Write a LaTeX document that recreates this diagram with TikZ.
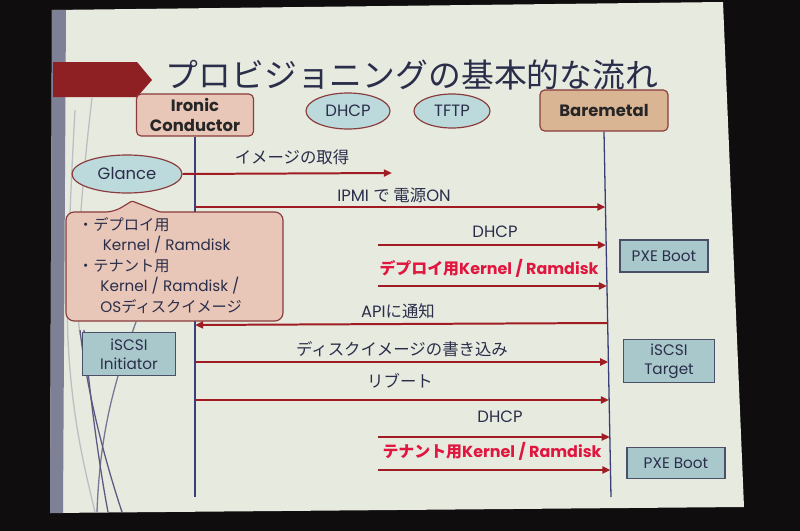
\documentclass[tikz,border=0pt]{standalone}
\usepackage{fontspec}
\setmainfont{Poppins}
\newfontfamily\jp{Noto Sans CJK JP}
\usetikzlibrary{shapes.geometric,arrows.meta}
\definecolor{dark}{HTML}{100D0E}
\definecolor{slide}{HTML}{E6EADF}
\definecolor{stripe}{HTML}{7E8196}
\definecolor{banner}{HTML}{8E1F22}
\definecolor{txt}{HTML}{2B2E4A}
\definecolor{msgred}{HTML}{A01C22}
\definecolor{hot}{HTML}{E0163F}
\definecolor{pinkfill}{HTML}{E8C6B8}
\definecolor{tanfill}{HTML}{D9B594}
\definecolor{bordred}{HTML}{8A3B3B}
\definecolor{ellfill}{HTML}{BCD9DB}
\definecolor{bluefill}{HTML}{A8C8CC}
\definecolor{blueline}{HTML}{4B5066}
\definecolor{life}{HTML}{3B3F78}
\definecolor{deco}{HTML}{5C5A82}
\tikzset{
  actor/.style={draw=bordred, line width=1pt, rounded corners=4pt, align=center, inner sep=0pt,
    text=black!85, font=\fontsize{14}{17}\selectfont\bfseries},
  svc/.style={ellipse, draw=bordred, line width=1pt, fill=ellfill, inner sep=0pt, text=txt,
    font=\fontsize{14}{17}\selectfont},
  bluebox/.style={draw=blueline, line width=1pt, fill=bluefill, align=center, inner sep=0pt, text=txt,
    font=\fontsize{13}{16.5}\selectfont},
  lifeline/.style={draw=life, line width=1.1pt},
  msg/.style={draw=msgred, line width=1.7pt, -{Triangle[length=7pt,width=6pt]}},
  lbl/.style={text=txt, font=\fontsize{14}{17}\selectfont, inner sep=0pt},
  hotlbl/.style={text=hot, font=\fontsize{13.6}{16}\selectfont\bfseries, inner sep=0pt},
  decoline/.style={draw=deco, line width=1.1pt},
}
\begin{document}
\begin{tikzpicture}[x=0.03cm,y=-0.03cm]
\useasboundingbox (0,0) rectangle (800,531);
\fill[dark] (0,0) rectangle (800,531);
% slide
\fill[slide] (52,10) -- (723,2) -- (744,507) -- (50,513) -- cycle;
\fill[stripe] (52,10) -- (66,10) -- (63,513) -- (50,513) -- cycle;
% decorative template curves
\draw[decoline, opacity=0.3] (92,98) .. controls (80,200) and (74,290) .. (80,335);
\draw[decoline, opacity=0.3] (75,110) .. controls (70,200) and (66,300) .. (68,340) .. controls (72,420) and (85,470) .. (95,512);
\draw[decoline] (80,330) .. controls (88,400) and (108,470) .. (122,512);
\draw[decoline] (84,330) .. controls (90,400) and (100,470) .. (108,512);
\draw[decoline, opacity=0.8] (136,322) .. controls (115,380) and (100,430) .. (97,512);
% title banner
\fill[banner] (53,62) -- (137,62) -- (152,80) -- (137,97) -- (53,97) -- cycle;
\node[text=txt, font=\jp\fontsize{28}{30}\selectfont, inner sep=0pt] (title) at (412,75) {プロビジョニングの基本的な流れ};
% actors
\node[actor, fill=pinkfill, minimum width=3.51cm, minimum height=1.26cm] (ic) at (195,115) {Ironic\\Conductor};
\node[svc, minimum width=2.52cm, minimum height=1.08cm] (dhcp) at (348,111) {DHCP};
\node[svc, minimum width=2.28cm, minimum height=1.02cm] (tftp) at (452,111) {TFTP};
\node[actor, fill=tanfill, minimum width=3.84cm, minimum height=1.23cm] (bm) at (604,110.5) {Baremetal};
% lifelines
\coordinate (icend) at (195,497);
\coordinate (bmend) at (611,497);
\draw[lifeline] (ic.south) -- (icend);
\draw[lifeline] (bm.south) -- (bmend);
% glance
\node[svc, minimum width=3.3cm, minimum height=1.14cm] (glance) at (127,174) {Glance};
\coordinate (g1) at (392,173);
\draw[msg] (glance.east) -- (g1);
\node[lbl, font=\jp\fontsize{14}{17}\selectfont] (l1) at (292,157) {イメージの取得};
% callout
\draw[draw=bordred, line width=1pt, fill=pinkfill, rounded corners=7pt]
  (66,212) -- (114,212) [rounded corners=1pt]-- (132,201) -- (160,212) [rounded corners=7pt]-- (283,212) -- (283,321) -- (66,321) -- cycle;
\node[text=txt, anchor=north west, align=left, inner sep=0pt, font=\fontsize{13}{17.5}\selectfont] (callout) at (78,217)
 {{\jp ・デプロイ用}\\
  \hspace*{21pt}Kernel / Ramdisk\\
  {\jp ・テナント用}\\
  \hspace*{19pt}Kernel / Ramdisk /\\
  \hspace*{19pt}OS{\jp ディスクイメージ}};
% IPMI
\coordinate (a2s) at (195,207);
\coordinate (a2e) at (605.5,207);
\draw[msg] (a2s) -- (a2e);
\node[lbl] (l2) at (394,195) {IPMI {\jp で 電源}ON};
% PXE boot 1
\node[bluebox, minimum width=2.64cm, minimum height=0.96cm] (pxe1) at (664,256) {PXE Boot};
\coordinate (a3s) at (378,245);
\coordinate (a3e) at (606,245);
\draw[msg] (a3s) -- (a3e);
\node[lbl] (l3) at (495,232) {DHCP};
\node[hotlbl] (l4) at (489,268) {{\jp\bfseries デプロイ用}Kernel / Ramdisk};
\coordinate (a4s) at (378,286);
\coordinate (a4e) at (607,286);
\draw[msg] (a4s) -- (a4e);
% API notify
\coordinate (a5s) at (607.7,323);
\coordinate (a5e) at (195,325);
\draw[msg] (a5s) -- (a5e);
\node[lbl] (l5) at (398,311) {API{\jp に通知}};
% iSCSI
\node[bluebox, minimum width=2.79cm, minimum height=1.29cm] (ini) at (129,354) {iSCSI\\Initiator};
\node[bluebox, minimum width=2.73cm, minimum height=1.29cm] (tgt) at (669,361) {iSCSI\\Target};
\coordinate (a6s) at (195,362);
\coordinate (a6e) at (608.4,362);
\draw[msg] (a6s) -- (a6e);
\node[lbl, font=\jp\fontsize{14}{17}\selectfont] (l6) at (402,349) {ディスクイメージの書き込み};
\coordinate (a7s) at (195,400);
\coordinate (a7e) at (609,400);
\draw[msg] (a7s) -- (a7e);
\node[lbl, font=\jp\fontsize{14}{17}\selectfont] (l7) at (400,381) {リブート};
% PXE boot 2
\node[bluebox, minimum width=2.94cm, minimum height=0.93cm] (pxe2) at (676,463) {PXE Boot};
\coordinate (a8s) at (378,437);
\coordinate (a8e) at (609.9,437);
\draw[msg] (a8s) -- (a8e);
\node[lbl] (l8) at (500,417) {DHCP};
\node[hotlbl] (l9) at (492,451) {{\jp\bfseries テナント用}Kernel / Ramdisk};
\coordinate (a9s) at (378,470);
\coordinate (a9e) at (610.5,470);
\draw[msg] (a9s) -- (a9e);
\end{tikzpicture}
\end{document}
